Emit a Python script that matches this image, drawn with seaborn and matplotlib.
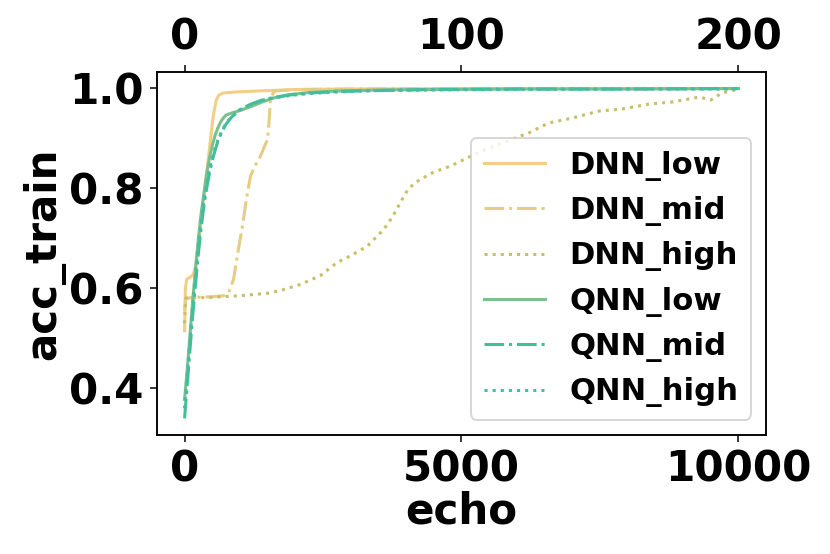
import pandas as pd
import matplotlib
matplotlib.use("Agg")
import matplotlib.pyplot as plt
import seaborn as sns

# DNN: epochs 0-10000 (bottom axis)
dnn_low_x = [0, 15, 40, 100, 160, 200, 260, 330, 400, 460, 520, 570, 620, 700, 900, 1300, 2000, 3000, 5000, 10000]
dnn_low_y = [0.515, 0.60, 0.618, 0.622, 0.628, 0.645, 0.70, 0.77, 0.83, 0.89, 0.945, 0.975, 0.986, 0.99,
             0.992, 0.994, 0.997, 0.998, 0.999, 0.999]

dnn_mid_x = [0, 20, 200, 500, 700, 800, 885, 960, 1045, 1120, 1190, 1280, 1370, 1500, 1530, 1550, 1600, 1640,
             2000, 3000, 5000, 10000]
dnn_mid_y = [0.555, 0.58, 0.582, 0.583, 0.585, 0.592, 0.618, 0.67, 0.724, 0.78, 0.824, 0.846, 0.864, 0.898,
             0.94, 0.975, 0.99, 0.994, 0.997, 0.998, 0.999, 0.999]

dnn_high_x = [0, 20, 500, 1000, 1500, 1750, 2100, 2450, 2760, 3000, 3300, 3600, 3750, 3900, 4025, 4150, 4300, 4500,
              4800, 5100, 5360, 5800, 6210, 6570, 7000, 7490, 7900, 8390, 8800, 9300, 9500, 9700, 10000]
dnn_high_y = [0.53, 0.58, 0.582, 0.585, 0.59, 0.596, 0.608, 0.625, 0.652, 0.665, 0.684, 0.718, 0.742, 0.772,
              0.796, 0.81, 0.82, 0.832, 0.844, 0.86, 0.874, 0.893, 0.91, 0.93, 0.94, 0.954, 0.958, 0.968, 0.972,
              0.982, 0.976, 0.99, 0.998]

# QNN: epochs 0-200 (top axis)
qnn_x = [0, 1, 2, 3, 4, 5, 6, 7, 8, 9, 10, 11, 12, 13, 14, 15, 17, 20, 24, 28, 32, 38, 45, 55, 70, 90, 120, 160, 200]
qnn_low_y = [0.378, 0.44, 0.51, 0.58, 0.64, 0.70, 0.75, 0.79, 0.83, 0.86, 0.885, 0.905, 0.92, 0.932, 0.94, 0.946,
             0.95, 0.955, 0.963, 0.972, 0.98, 0.987, 0.991, 0.994, 0.996, 0.997, 0.998, 0.998, 0.999]
qnn_mid_y = [0.34, 0.41, 0.48, 0.55, 0.61, 0.67, 0.72, 0.765, 0.80, 0.83, 0.855, 0.875, 0.893, 0.907, 0.918, 0.928,
             0.942, 0.957, 0.968, 0.976, 0.981, 0.986, 0.99, 0.993, 0.995, 0.997, 0.998, 0.998, 0.999]
qnn_high_y = [0.36, 0.43, 0.50, 0.57, 0.63, 0.685, 0.735, 0.775, 0.81, 0.84, 0.86, 0.88, 0.895, 0.908, 0.92, 0.93,
              0.943, 0.956, 0.967, 0.975, 0.98, 0.985, 0.989, 0.992, 0.995, 0.996, 0.997, 0.998, 0.998]

plt.rcParams["font.weight"] = "bold"
plt.rcParams["axes.labelweight"] = "bold"

fig, ax = plt.subplots(figsize=(830 / 138, 554 / 138), dpi=138)
ax2 = ax.twiny()

dnn = [("DNN_low", dnn_low_x, dnn_low_y, "#f3cf86", "-"),
       ("DNN_mid", dnn_mid_x, dnn_mid_y, "#e5cd84", "-."),
       ("DNN_high", dnn_high_x, dnn_high_y, "#c9bf69", ":")]
for name, xs, ys, c, ls in dnn:
    sns.lineplot(x=xs, y=ys, ax=ax, color=c, linestyle=ls, linewidth=1.6,
                 label=name, estimator=None, sort=False)

qnn = [("QNN_low", qnn_low_y, "#7cc08c", "-"),
       ("QNN_mid", qnn_mid_y, "#3ec197", "-."),
       ("QNN_high", qnn_high_y, "#4bb9a8", ":")]
for name, ys, c, ls in qnn:
    sns.lineplot(x=qnn_x, y=ys, ax=ax2, color=c, linestyle=ls, linewidth=1.6,
                 label=name, estimator=None, sort=False)

h1, l1 = ax.get_legend_handles_labels()
h2, l2 = ax2.get_legend_handles_labels()
ax.get_legend().remove()
ax2.legend(h1 + h2, l1 + l2, loc="lower right", prop={"size": 16, "weight": "bold"},
           handlelength=2.0)

ax.set_xticks([0, 5000, 10000])
ax2.set_xticks([0, 100, 200])
ax.set_yticks([0.4, 0.6, 0.8, 1.0])
ax.tick_params(labelsize=22)
ax2.tick_params(labelsize=22)
ax.set_xlabel("echo", fontsize=22, fontweight="bold", labelpad=0)
ax.set_ylabel("acc_train", fontsize=22, fontweight="bold", labelpad=2)

fig.subplots_adjust(left=0.189, right=0.923, bottom=0.215, top=0.870)
fig.savefig("out.png", dpi=138)
